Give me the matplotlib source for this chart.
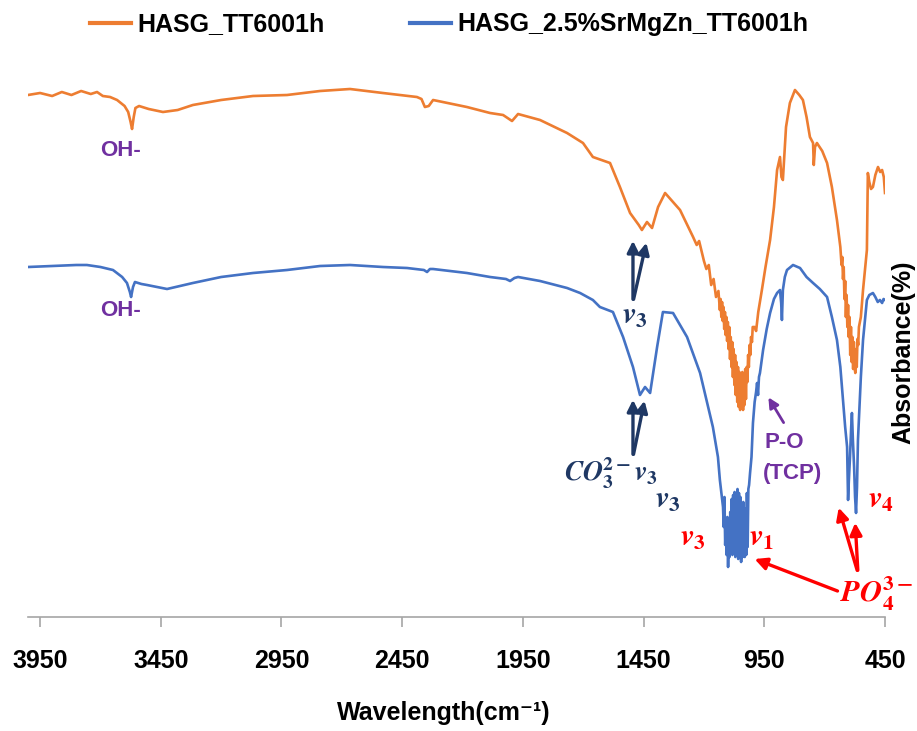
import matplotlib
matplotlib.use('Agg')
import matplotlib.pyplot as plt

# FTIR spectra (wavenumber cm-1, absorbance in arbitrary units)
orange_wn = [4000, 3950, 3900, 3860, 3820, 3780, 3740, 3714, 3690, 3660, 3631, 3600, 3585, 3575, 3569,
             3562, 3555, 3540, 3500, 3441, 3380, 3317, 3200, 3068, 2927, 2790, 2666, 2530, 2389, 2370,
             2356, 2340, 2322, 2182, 2086, 2032, 1995, 1970, 1879, 1767, 1701, 1660, 1589, 1548, 1506,
             1470, 1457, 1436, 1415, 1390, 1361, 1299, 1245, 1230, 1220, 1200, 1190, 1180, 1170, 1160,
             1150, 1140, 1134, 1131, 1128, 1125, 1122, 1119, 1116, 1113, 1110, 1107, 1104, 1101, 1098,
             1095, 1092, 1089, 1086, 1083, 1080, 1077, 1074, 1071, 1068, 1065, 1062, 1059, 1056, 1053,
             1050, 1047, 1044, 1041, 1038, 1035, 1032, 1029, 1026, 1023, 1020, 1017, 1014, 1011, 1008,
             1005, 1001, 998, 990, 984, 975, 960, 945, 926, 910, 897, 885, 879, 873, 860,
             844, 823, 805, 790, 775, 761, 748, 745, 740, 732, 710, 690, 670, 649, 640,
             635, 630, 627, 624, 621, 618, 615, 612, 609, 606, 603, 600, 597, 594, 591,
             588, 585, 582, 579, 576, 573, 570, 567, 564, 561, 558, 550, 541, 530, 525,
             521, 515, 508, 500, 490, 479, 470, 462, 455, 450]
orange_abs = [522, 524, 521, 525, 522, 526, 523, 525, 521, 520, 517, 511, 505, 495, 488,
              500, 509, 511, 508, 505, 507, 512, 517, 521, 522, 526, 528, 524, 520, 518,
              510, 511, 517, 510, 504, 502, 496, 503, 497, 484, 474, 460, 454, 430, 404,
              392, 387, 395, 389, 410, 424, 407, 380, 372, 376, 356, 348, 352, 332, 338,
              320, 326, 307, 318, 300, 315, 296, 310, 288, 305, 282, 300, 276, 295, 268,
              290, 258, 280, 250, 275, 240, 268, 232, 262, 222, 255, 215, 250, 210, 245,
              207, 240, 210, 245, 207, 240, 212, 248, 218, 250, 235, 262, 250, 272, 262,
              280, 275, 290, 290, 286, 305, 327, 350, 377, 410, 447, 460, 440, 437, 490,
              514, 527, 522, 517, 500, 480, 474, 452, 470, 474, 466, 454, 430, 397, 380,
              370, 352, 360, 338, 350, 318, 336, 300, 322, 290, 312, 280, 300, 262, 290,
              255, 280, 248, 275, 250, 244, 268, 250, 278, 272, 290, 300, 327, 355, 367,
              444, 435, 428, 430, 442, 450, 445, 447, 440, 424]

blue_wn = [4000, 3900, 3800, 3756, 3700, 3648, 3610, 3590, 3578, 3573, 3565, 3557, 3530, 3507, 3424,
           3317, 3200, 3068, 2927, 2790, 2666, 2530, 2430, 2360, 2347, 2335, 2322, 2182, 2086, 2020,
           2003, 1985, 1970, 1879, 1767, 1713, 1660, 1631, 1577, 1535, 1494, 1465, 1444, 1423, 1394,
           1370, 1328, 1270, 1216, 1163, 1142, 1134, 1121, 1118, 1115, 1112, 1109, 1106, 1103, 1100,
           1097, 1094, 1091, 1088, 1085, 1082, 1079, 1076, 1073, 1070, 1067, 1064, 1061, 1058, 1055,
           1052, 1049, 1046, 1043, 1040, 1037, 1034, 1031, 1028, 1025, 1022, 1019, 1016, 1013, 1009,
           1003, 997, 990, 984, 980, 976, 972, 968, 955, 940, 926, 910, 897, 885, 880,
           877, 873, 865, 856, 831, 802, 775, 748, 720, 690, 670, 649, 635, 624, 615,
           607, 603, 600, 595, 590, 587, 583, 578, 574, 570, 566, 562, 550, 541, 525,
           515, 500, 490, 480, 471, 462, 456, 450]
blue_abs = [350, 351, 352, 352, 350, 347, 340, 334, 325, 320, 330, 335, 333, 332, 328,
            334, 340, 344, 347, 351, 352, 350, 349, 347, 345, 348, 348, 344, 340, 338,
            336, 339, 340, 336, 329, 324, 317, 310, 305, 280, 250, 222, 230, 224, 270,
            305, 304, 280, 244, 190, 160, 137, 110, 90, 120, 72, 95, 62, 100, 50,
            90, 60, 105, 66, 118, 62, 122, 68, 125, 60, 118, 65, 128, 58, 124,
            62, 120, 55, 110, 60, 115, 64, 60, 108, 62, 124, 70, 128, 132, 144,
            160, 194, 215, 225, 234, 222, 240, 244, 267, 288, 304, 318, 324, 327, 314,
            297, 327, 340, 347, 352, 349, 340, 334, 328, 320, 300, 277, 250, 217, 190,
            170, 117, 135, 160, 190, 204, 177, 150, 120, 104, 130, 177, 240, 277, 317,
            322, 324, 320, 315, 317, 314, 318, 317]

series_labels = ['HASG_TT6001h', 'HASG_2.5%SrMgZn_TT6001h']
x_ticks = [3950, 3450, 2950, 2450, 1950, 1450, 950, 450]

plt.rcParams['font.family'] = ['Liberation Sans', 'DejaVu Sans']
plt.rcParams['font.weight'] = 'bold'
plt.rcParams['mathtext.fontset'] = 'stix'

fig = plt.figure(figsize=(9.17, 7.31), dpi=100)
ax = fig.add_axes([28 / 917, 114 / 731, 857 / 917, 557 / 731])

l1, = ax.plot(orange_wn, orange_abs, color='#ED7D31', lw=1.9)
l2, = ax.plot(blue_wn, blue_abs, color='#4472C4', lw=1.9)

ax.set_xlim(4000, 450)
ax.set_ylim(0, 557)
ax.set_xticks(x_ticks)
ax.set_xticklabels([str(t) for t in x_ticks])
ax.set_yticks([])
for s in ['top', 'right', 'left']:
    ax.spines[s].set_visible(False)
ax.spines['bottom'].set_color('#A6A6A6')
ax.spines['bottom'].set_linewidth(1.2)
ax.tick_params(axis='x', length=7, width=1.2, color='#A6A6A6', labelsize=18, pad=16)

ax.set_xlabel('Wavelength(cm⁻¹)', fontsize=18, fontweight='bold')
ax.xaxis.set_label_coords(0.485, -0.172)
ax.xaxis.label.set_va('center')
fig.text(0.985, 0.518, 'Absorbance(%)', rotation=90, ha='center', va='center',
         fontsize=18, fontweight='bold')

leg = fig.legend([l1, l2], series_labels, loc='upper center', bbox_to_anchor=(0.49, 1.0), ncol=2,
                 frameon=False, prop=dict(size=18, weight='bold'), handlelength=1.65,
                 handletextpad=0.25, columnspacing=3.4, borderaxespad=0.1)
for ln in leg.get_lines():
    ln.set_linewidth(3)

# annotations
purple = '#7030A0'
navy = '#1F3864'
red = '#FF0000'
lab = dict(fontweight='bold', fontsize=16, ha='center', va='center')
ax.text(3615, 467, 'OH-', color=purple, **lab)
ax.text(3615, 306, 'OH-', color=purple, **lab)
ax.text(868, 175, 'P-O', color=purple, **lab)
ax.text(835, 144, '(TCP)', color=purple, **lab)
ax.annotate('', xy=(939, 222), xytext=(864, 192),
            arrowprops=dict(arrowstyle='-|>', color=purple, lw=2, mutation_scale=15))

m = dict(fontsize=22, ha='center', va='center')
ax.text(1486, 301, '$v_3$', color=navy, **m)
ax.text(1585, 144, r'$\mathbfit{CO}_{3}^{2-}v_3$', color=navy, fontsize=20, ha='center', va='center')
ax.text(1349, 117, '$v_3$', color=navy, **m)
for tip, base in [((1494, 379), (1494, 315)), ((1436, 377), (1494, 315)),
                  ((1494, 220), (1494, 160)), ((1444, 219), (1494, 160))]:
    ax.annotate('', xy=tip, xytext=base,
                arrowprops=dict(arrowstyle='-|>', color=navy, lw=2.4, mutation_scale=17))

ax.text(1245, 79, '$v_3$', color=red, **m)
ax.text(960, 79, '$v_1$', color=red, **m)
ax.text(467, 117, '$v_4$', color=red, **m)
ax.text(487, 23, r'$\mathbfit{PO}_{4}^{3-}$', color=red, **m)
for tip, base in [((1001, 59), (636, 25)), ((645, 112), (562, 44)), ((574, 97), (562, 44))]:
    ax.annotate('', xy=tip, xytext=base,
                arrowprops=dict(arrowstyle='-|>', color=red, lw=2.4, mutation_scale=18))

fig.savefig('out.png', dpi=100)
